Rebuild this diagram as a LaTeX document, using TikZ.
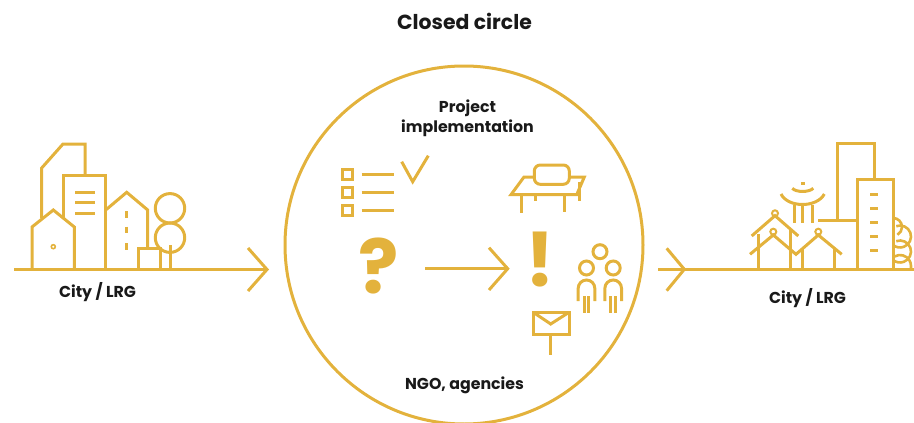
\documentclass[tikz,border=0pt]{standalone}
\usepackage{fontspec}
\setmainfont{Poppins}
\definecolor{gold}{HTML}{E3B23C}
\tikzset{
    icon/.style={draw=gold,line width=3pt,line join=miter},
    label/.style={font=\fontsize{15.8}{20}\selectfont\bfseries,align=center,text=black!90},
    sign/.style={font=\fontsize{75}{75}\selectfont\bfseries,text=gold,inner sep=0pt}
}
\begin{document}
\begin{tikzpicture}[x=1pt,y=-1pt]
    \useasboundingbox (0,0) rectangle (914,423);

    % Title and labels
    \node[label,font=\fontsize{20.4}{24}\selectfont\bfseries] (title) at (464.5,21.5) {Closed circle};
    \node[label] (project) at (467.5,118) {Project\\implementation};
    \node[label] (ngo) at (464.5,385.5) {NGO, agencies};
    \node[label] (cityleft) at (97.5,292) {City / LRG};
    \node[label] (cityright) at (807.5,298) {City / LRG};

    % Big circle
    \draw[icon] (464,245) circle (179);

    % Left city
    \draw[icon] (14,269.5) -- (267,269.5);
    \draw[icon] (248,248) -- (267,269.5) -- (248,291);
    \draw[icon] (41.7,218) -- (41.7,168) -- (63,144) -- (85,144) -- (85,175);
    \draw[icon] (63.3,218) -- (63.3,175) -- (105.7,175) -- (105.7,269.5);
    \draw[icon] (32,269.5) -- (32,227) -- (53.3,210) -- (74.3,227) -- (74.3,269.5);
    \foreach \y in {192.3,202.7,213} {
        \draw[icon] (75,\y) -- (95,\y);
    }
    \draw[icon,line width=1.6pt] (53.3,246.7) circle (2);
    \draw[icon] (105.7,210) -- (126.7,192.3) -- (147.7,210) -- (147.7,248.3);
    \foreach \y in {211,226.7,243.3} {
        \draw[icon] (126.7,\y) -- (126.7,\y+6.5);
    }
    \draw[icon] (138.3,269.5) -- (138.3,248.3) -- (160,248.3) -- (160,269.5);
    \draw[icon] (170,208.3) circle (14.7);
    \draw[icon] (170,237.7) circle (14.7);
    \draw[icon] (170,245) -- (170,269.5);

    % Checklist
    \foreach \y in {174.7,192.3,210} {
        \draw[icon] (342,\y-5) rectangle (352,\y+5);
        \draw[icon] (361.7,\y) -- (394,\y);
    }
    \draw[icon] (401.7,161.7) -- (412.7,181.7) -- (428.3,155.7);

    % Desk
    \draw[icon,rounded corners=6pt] (534.3,165) rectangle (569.3,184.3);
    \draw[icon] (534.3,177) -- (524,177) -- (511,194.7) -- (576.7,194.7) -- (584.3,177) -- (569.3,177);
    \draw[icon] (521.3,194.7) -- (521.3,213.3);
    \draw[icon] (535,194.7) -- (535,201);
    \draw[icon] (564.3,194.7) -- (564.3,212.3);
    \draw[icon] (579.7,181.7) -- (579.7,201);

    % Signs and arrow
    \node[sign] (question) at (378.5,265.7) {?};
    \node[sign] (exclaim) at (540,259.5) {!};
    \draw[icon] (425.3,268.7) -- (507.7,268.7);
    \draw[icon] (489,247.7) -- (507.7,268.7) -- (489,290);

    % People
    \draw[icon] (600,251.7) circle (7);
    \foreach \x in {586.5,613.2} {
        \draw[icon] (\x,268) circle (7);
        \draw[icon] (\x-8.3,301) -- (\x-8.3,288.3) arc (180:360:8.3) -- (\x+8.3,301);
        \draw[icon] (\x-2.3,296) -- (\x-2.3,313.3);
        \draw[icon] (\x+2.3,296) -- (\x+2.3,313.3);
    }

    % Envelope
    \draw[icon] (533.3,312.3) rectangle (569,334.7);
    \draw[icon] (533.3,312.3) -- (550.7,324) -- (569,312.3);
    \draw[icon] (550.7,334.7) -- (550.7,355);

    % Right city
    \draw[icon] (658.3,269.3) -- (914,269.3);
    \draw[icon] (666.7,248.3) -- (684.3,269.3) -- (666.7,290.7);
    \draw[icon] (837.7,220.3) -- (837.7,143.3) -- (874,143.3) -- (874,179.3);
    \draw[icon] (857.3,269.3) -- (857.3,179.3) -- (893.3,179.3) -- (893.3,269.3);
    \draw[icon] (818.3,220.3) -- (857.3,220.3);
    \foreach \y in {194.3,208.3,222.3,236.3,250.3} {
        \draw[icon] (870,\y) -- (877.7,\y);
    }

    % Scallops behind the tower
    \draw[icon,line width=2.6pt] (893,218) arc (-90:60:9);
    \foreach \y in {236.5,251.5} {
        \draw[icon,line width=2.6pt] ([shift={(900,\y)}]-110:11) arc (-110:130:11);
    }
    \draw[icon,line width=2.6pt] ([shift={(900,266)}]-120:11) arc (-120:0:11) -- (911,269.3);

    % Pavilion
    \fill[gold] (801,181.5) rectangle (805,185);
    \draw[icon] (792.3,188.3) .. controls (796,192.5) and (809,192.5) .. (813.3,188.3);
    \draw[icon] (781,194) .. controls (788,208) and (817,208) .. (824.3,194);
    \foreach \x in {794.3,802.7,812.7} {
        \draw[icon] (\x,205) -- (\x,222.7);
    }

    % Houses
    \draw[icon] (751.7,236) -- (775,215.7) -- (798.3,236);
    \draw[icon] (758.3,234.3) -- (758.3,269.3);
    \draw[icon] (790,230) -- (790,269.3);
    \draw[icon] (750,254.3) -- (773.3,235) -- (796,254.3) -- (818.3,235) -- (841.7,254.3);
    \draw[icon] (802.3,249) -- (802.3,269.3);
    \draw[icon] (834,249) -- (834,269.3);
    \draw[icon,line width=2pt] (775,213.3) circle (3);
    \draw[icon,line width=2pt] (773.3,231.7) circle (3);
    \draw[icon,line width=2pt] (818.3,231.7) circle (3);

\end{tikzpicture}
\end{document}
